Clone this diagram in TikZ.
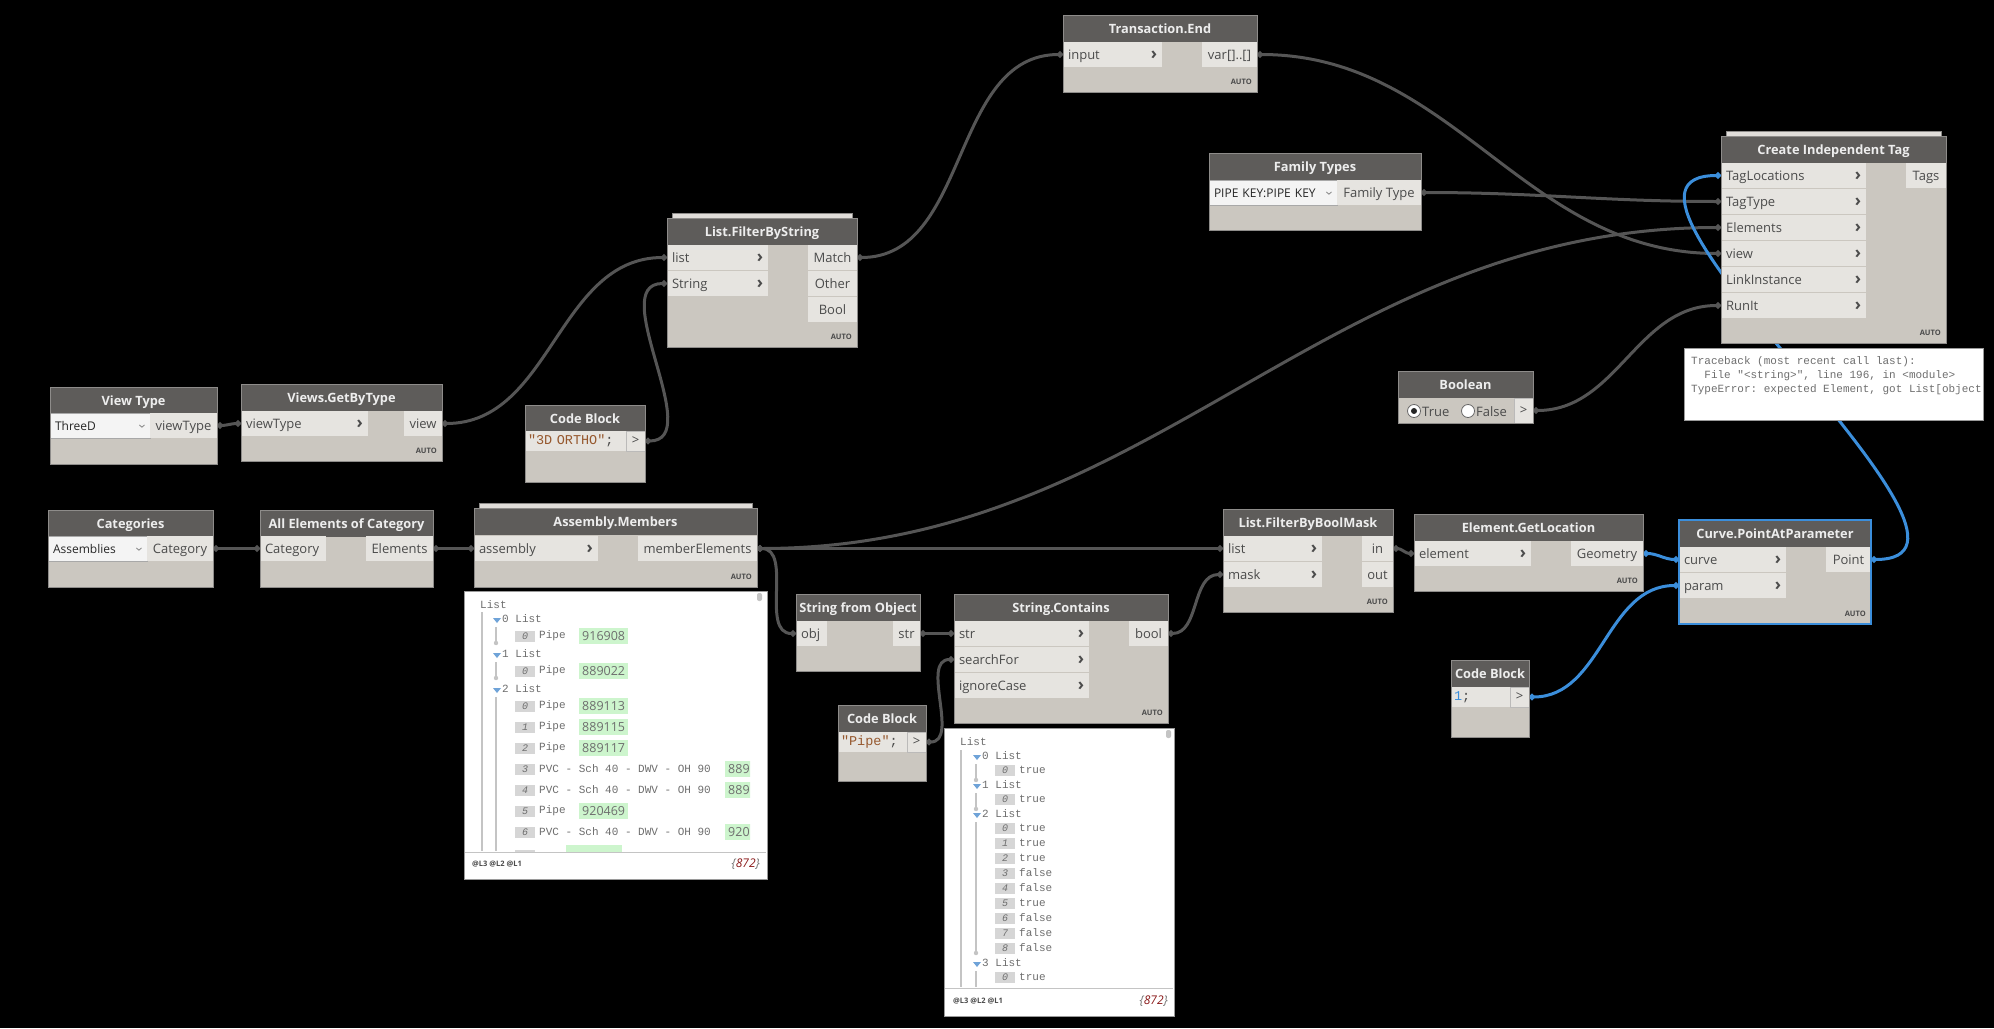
\documentclass[tikz,border=0pt]{standalone}
\usepackage{fontspec}
\usepackage{graphicx}
\setmainfont{Open Sans}
\setmonofont{Liberation Mono}
\usetikzlibrary{arrows.meta}
\pgfdeclarelayer{wires}
\pgfdeclarelayer{front}
\pgfsetlayers{wires,main,front}

\definecolor{canvas}{HTML}{000000}
\definecolor{hdrc}{HTML}{5E5C5A}
\definecolor{hdrtxt}{HTML}{EDEDED}
\definecolor{bodyc}{HTML}{CBC7C0}
\definecolor{portc}{HTML}{E6E4E0}
\definecolor{edgec}{HTML}{8E8C8A}
\definecolor{txtc}{HTML}{4B4B4B}
\definecolor{wirec}{HTML}{555555}
\definecolor{selc}{HTML}{3B8EDB}
\definecolor{strc}{HTML}{96582E}
\definecolor{numc}{HTML}{3B8EDB}
\definecolor{grnc}{HTML}{CDF5CD}
\definecolor{idxc}{HTML}{D6D6D6}
\definecolor{wtxc}{HTML}{6E6E6E}
\definecolor{redc}{HTML}{8B1A1A}
\definecolor{trc}{HTML}{6FA3D8}
\definecolor{dropc}{HTML}{F4F4F4}
\definecolor{dropedge}{HTML}{A8A8A8}
\definecolor{treec}{HTML}{C4C4C4}
\definecolor{watchedge}{HTML}{9A9A9A}

\newcommand\portfont{\fontsize{13}{15}\selectfont}
\newcommand\titlefont{\fontsize{12.8}{15}\selectfont\bfseries}
\newcommand\dropfont{\fontsize{12}{14}\selectfont}
\newcommand\codefont{\fontsize{13.5}{16}\selectfont\ttfamily}
\newcommand\wfont{\fontsize{11}{13}\selectfont\ttfamily}
\newcommand\idxfont{\fontsize{10}{11}\selectfont\ttfamily\itshape}
\newcommand\autofont{\fontsize{7.5}{8}\selectfont\bfseries}
\newcommand\chev{{\fontsize{17}{17}\selectfont\bfseries ›}}
\newcommand\ddarrow{{\color{gray}\fontsize{14}{14}\selectfont\rotatebox[origin=c]{-90}{›}}}

% dynamo node: body, title bar, frame on top
\newcommand\dyn[7][]{%
  \node[body,minimum width=#5pt,minimum height=#6pt] (#2) at (#3,#4) {};
  \node[hdr,minimum width=#5pt] (#2-t) at (#3,#4) {#7};
  \begin{pgfonlayer}{front}
    \node[nframe,minimum width=#5pt,minimum height=#6pt,#1] (#2-f) at (#3,#4) {};
  \end{pgfonlayer}}
% ports
\newcommand\pin[6][\chev]{%
  \pgfmathsetmacro\portw{#5-10}%
  \node[inport,text width=\portw pt] (#2) at (#3,#4) {#6\hfill#1};}
\newcommand\pout[5]{\node[outport,minimum width=#4pt] (#1) at (#2,#3) {#5};}
\newcommand\drop[5]{%
  \pgfmathsetmacro\portw{#4-10}%
  \node[drop,text width=\portw pt] (#1) at (#2,#3) {#5\hfill\ddarrow};}
\newcommand\dynauto[1]{\node[autotag] (#1-a) at ([xshift=-5pt,yshift=10pt]#1.south east) {AUTO};}
\newcommand\stackbar[3]{\filldraw[stackc] (#1+5,#2-5) rectangle (#1+#3-5,#2+2);}
% watch rows
\newcommand\wsub[4]{%
  \fill[trc] (#2,#3-1) -- (#2+8,#3-1) -- (#2+4,#3+4) -- cycle;
  \node[wtxt] (#1) at (#2+9,#3) {#4};}
\newcommand\witem[5]{%
  \node[idx] (#1-k) at (#2,#3) {#4};
  \node[wtxt] (#1) at (#2+24,#3) {#5};}

\begin{document}
\begin{tikzpicture}[x=1pt,y=-1pt,
  body/.style={anchor=north west,fill=bodyc,inner sep=0pt,outer sep=0pt},
  hdr/.style={anchor=north west,fill=hdrc,minimum height=27pt,inner sep=0pt,outer sep=0pt,text height=11pt,text depth=1pt,text=hdrtxt,font=\titlefont},
  nframe/.style={anchor=north west,draw=edgec,line width=1pt,inner sep=0pt,outer sep=0pt},
  inport/.style={anchor=north west,fill=portc,minimum height=25pt,inner xsep=5pt,inner ysep=0pt,outer sep=0pt,text height=11pt,text depth=1pt,align=left,font=\portfont,text=txtc},
  outport/.style={anchor=north west,fill=portc,minimum height=25pt,inner sep=0pt,outer sep=0pt,text height=11pt,text depth=1pt,font=\portfont,text=txtc},
  drop/.style={anchor=north west,fill=dropc,draw=dropedge,minimum height=25pt,inner xsep=5pt,inner ysep=0pt,outer sep=0pt,text height=10.5pt,text depth=1pt,align=left,font=\dropfont,text=black!85},
  codecell/.style={anchor=north west,fill=portc,minimum height=20pt,inner xsep=3pt,inner ysep=0pt,outer sep=0pt,align=left,font=\codefont,text=txtc},
  codeport/.style={anchor=north west,fill=portc,draw=edgec!60,minimum width=19pt,minimum height=20pt,inner sep=0pt,outer sep=0pt,font=\portfont,text=txtc},
  autotag/.style={anchor=east,inner sep=0pt,font=\autofont,text=txtc},
  stackc/.style={fill=bodyc!60!white,draw=edgec},
  watch/.style={anchor=north west,fill=white,draw=watchedge,line width=1pt,inner sep=0pt},
  wsep/.style={draw=treec,line width=1pt},
  treeline/.style={draw=treec,line width=1.2pt},
  wtxt/.style={anchor=west,inner sep=0pt,font=\wfont,text=wtxc},
  idx/.style={anchor=west,fill=idxc,minimum width=20pt,minimum height=11pt,inner sep=0pt,font=\idxfont,text=wtxc},
  gval/.style={anchor=west,fill=grnc,minimum height=16pt,inner xsep=3pt,inner ysep=0pt,font=\fontsize{12.5}{14}\selectfont,text=wtxc},
  foot/.style={anchor=west,inner sep=0pt,font=\autofont,text=txtc},
  cnt/.style={anchor=east,inner sep=0pt,font=\fontsize{12}{14}\selectfont\itshape,text=redc},
  errbox/.style={anchor=north west,fill=white,draw=watchedge,line width=1pt,inner sep=0pt},
  errtxt/.style={anchor=west,inner sep=0pt,font=\wfont,text=wtxc},
  radio/.style={fill=white,draw=gray!80!black,line width=0.8pt},
  boolt/.style={anchor=west,inner sep=0pt,text height=11pt,text depth=1pt,font=\portfont,text=txtc},
  wire/.style={draw=wirec,line width=3pt,{Circle[length=6pt 0]}-{Circle[length=6pt 0]}},
  selwire/.style={wire,draw=selc}]
\useasboundingbox (0,0) rectangle (1994,1028);
\begin{pgfonlayer}{wires}
  \fill[canvas] (0,0) rectangle (1994,1028);
\end{pgfonlayer}

% view type and filter by string
\dyn{vtype}{50}{387}{167}{77}{View Type}
\drop{vtype-d}{50}{413}{100}{ThreeD}
\pout{vtype-o}{150}{413}{67}{viewType}

\dyn{vget}{241}{384}{201}{77}{Views.GetByType}
\pin{vget-i}{241}{411}{127}{viewType}
\pout{vget-o}{404}{411}{38}{view}
\dynauto{vget}

\dyn{cb3d}{525}{405}{120}{77}{Code Block}
\node[codecell,text width=95pt] (cb3d-c) at (525,431) {{\color{strc}"3D ORTHO"};};
\node[codeport] (cb3d-o) at (626,431) {>};

\stackbar{667}{218}{190}
\dyn{fstr}{667}{218}{190}{129}{List.FilterByString}
\pin{fstr-i1}{667}{245}{101}{list}
\pin{fstr-i2}{667}{271}{101}{String}
\pout{fstr-o1}{808}{245}{49}{Match}
\pout{fstr-o2}{808}{271}{49}{Other}
\pout{fstr-o3}{808}{297}{49}{Bool}
\dynauto{fstr}

\dyn{tend}{1063}{15}{194}{77}{Transaction.End}
\pin{tend-i}{1063}{42}{99}{input}
\pout{tend-o}{1202}{42}{55}{var[]..[]}
\dynauto{tend}

% tag creation
\dyn{ftypes}{1209}{153}{212}{77}{Family Types}
\drop{ftypes-d}{1209}{180}{128}{PIPE KEY:PIPE KEY}
\pout{ftypes-o}{1337}{180}{84}{Family Type}

\stackbar{1721}{136}{225}
\dyn{ctag}{1721}{136}{225}{207}{Create Independent Tag}
\foreach \lab [count=\k] in {TagLocations,TagType,Elements,view,LinkInstance,RunIt}
  {\pin{ctag-i\k}{1721}{137+26*\k}{145}{\lab}}
\pout{ctag-o}{1906}{163}{40}{Tags}
\dynauto{ctag}

\node[errbox,minimum width=299pt,minimum height=72pt] (err) at (1684,348) {};
\node[errtxt] (err-l1) at (1691,362) {Traceback (most recent call last):};
\node[errtxt] (err-l2) at (1691,376) {\ \ File "<string>", line 196, in <module>};
\node[errtxt] (err-l3) at (1691,390) {TypeError: expected Element, got List[object};

\dyn{bool}{1398}{371}{135}{52}{Boolean}
\draw[radio] (1414,411) circle (6.5pt);
\fill[black!85] (1414,411) circle (3pt);
\draw[radio] (1468,411) circle (6.5pt);
\node[boolt] (bool-t) at (1422,411) {True};
\node[boolt] (bool-f) at (1476,411) {False};
\node[codeport,minimum height=25pt] (bool-o) at (1514,398) {>};

% assemblies
\dyn{cats}{48}{510}{165}{77}{Categories}
\drop{cats-d}{48}{536}{99}{Assemblies}
\pout{cats-o}{147}{536}{66}{Category}

\dyn{allel}{260}{510}{173}{77}{All Elements of Category}
\pin[]{allel-i}{260}{536}{66}{Category}
\pout{allel-o}{366}{536}{67}{Elements}

\stackbar{474}{508}{283}
\dyn{amem}{474}{508}{283}{79}{Assembly.Members}
\pin{amem-i}{474}{536}{124}{assembly}
\pout{amem-o}{638}{536}{119}{memberElements}
\dynauto{amem}

% watch under Assembly.Members
\node[watch,minimum width=303pt,minimum height=288pt] (w1) at (464,591) {};
\draw[wsep] (465,852) -- (766,852);
\fill[treec,rounded corners=2pt] (757,593) rectangle (762,601);
\node[wtxt] (w1-r) at (480,605) {List};
\begin{scope}
  \clip (466,610) rectangle (750,851);
  \draw[treeline] (482,612) -- (482,851);
  \wsub{w1-s0}{493}{619}{0 List}
  \draw[treeline] (496,627) -- (496,643);
  \fill[treec] (496,643) circle (2.2pt);
  \witem{w1-s0-0}{515}{636}{0}{Pipe}
  \node[gval] (w1-s0-v) at (579,636) {916908};
  \wsub{w1-s1}{493}{654}{1 List}
  \draw[treeline] (496,662) -- (496,678);
  \fill[treec] (496,678) circle (2.2pt);
  \witem{w1-s1-0}{515}{671}{0}{Pipe}
  \node[gval] (w1-s1-v) at (579,671) {889022};
  \wsub{w1-s2}{493}{689}{2 List}
  \draw[treeline] (496,697) -- (496,851);
  \foreach \i/\yy/\txt/\vx/\val in {0/706/Pipe/579/889113,1/727/Pipe/579/889115,
      2/748/Pipe/579/889117,3/769/PVC - Sch 40 - DWV - OH 90/725/889,
      4/790/PVC - Sch 40 - DWV - OH 90/725/889,5/811/Pipe/579/920469,
      6/832/PVC - Sch 40 - DWV - OH 90/725/920}
    {\witem{w1-s2-\i}{515}{\yy}{\i}{\txt}
     \node[gval] (w1-s2-v\i) at (\vx,\yy) {\val};}
  \node[idx] (w1-s2-7k) at (515,855) {};
  \node[gval,minimum width=56pt] (w1-s2-v7) at (566,853) {};
\end{scope}
\node[foot] (w1-lv) at (472,864) {@L3 @L2 @L1};
\node[cnt] (w1-n) at (760,864) {{\color{wtxc}\{}872{\color{wtxc}\}}};

% string test
\dyn{sobj}{796}{594}{124}{77}{String from Object}
\pin[]{sobj-i}{796}{621}{31}{obj}
\pout{sobj-o}{893}{621}{27}{str}

\dyn{scont}{954}{594}{214}{129}{String.Contains}
\pin{scont-i1}{954}{621}{135}{str}
\pin{scont-i2}{954}{647}{135}{searchFor}
\pin{scont-i3}{954}{673}{135}{ignoreCase}
\pout{scont-o}{1129}{621}{39}{bool}
\dynauto{scont}

\dyn{cbpipe}{838}{705}{88}{76}{Code Block}
\node[codecell,text width=63pt] (cbpipe-c) at (838,732) {{\color{strc}"Pipe"};};
\node[codeport] (cbpipe-o) at (907,732) {>};

% watch under String.Contains
\node[watch,minimum width=230pt,minimum height=288pt] (w2) at (944,728) {};
\draw[wsep] (945,988) -- (1173,988);
\fill[treec,rounded corners=2pt] (1166,730) rectangle (1171,738);
\node[wtxt] (w2-r) at (960,742) {List};
\begin{scope}
  \clip (946,748) rectangle (1170,987);
  \draw[treeline] (961,750) -- (961,987);
  \wsub{w2-s0}{973}{756}{0 List}
  \draw[treeline] (976,764) -- (976,780);
  \fill[treec] (976,780) circle (2.2pt);
  \witem{w2-s0-0}{995}{770}{0}{true}
  \wsub{w2-s1}{973}{785}{1 List}
  \draw[treeline] (976,793) -- (976,809);
  \fill[treec] (976,809) circle (2.2pt);
  \witem{w2-s1-0}{995}{799}{0}{true}
  \wsub{w2-s2}{973}{814}{2 List}
  \draw[treeline] (976,822) -- (976,953);
  \fill[treec] (976,953) circle (2.2pt);
  \foreach \val [count=\i from 0] in {true,true,true,false,false,true,false,false,false}
    {\witem{w2-s2-\i}{995}{828+15*\i}{\i}{\val}}
  \wsub{w2-s3}{973}{963}{3 List}
  \draw[treeline] (976,971) -- (976,987);
  \witem{w2-s3-0}{995}{977}{0}{true}
\end{scope}
\node[foot] (w2-lv) at (953,1001) {@L3 @L2 @L1};
\node[cnt] (w2-n) at (1168,1001) {{\color{wtxc}\{}872{\color{wtxc}\}}};

% mask and location
\dyn{fbool}{1223}{509}{170}{103}{List.FilterByBoolMask}
\pin{fbool-i1}{1223}{536}{99}{list}
\pin{fbool-i2}{1223}{562}{99}{mask}
\pout{fbool-o1}{1362}{536}{31}{in}
\pout{fbool-o2}{1362}{562}{31}{out}
\dynauto{fbool}

\dyn{gloc}{1414}{514}{229}{77}{Element.GetLocation}
\pin{gloc-i}{1414}{541}{117}{element}
\pout{gloc-o}{1571}{541}{72}{Geometry}
\dynauto{gloc}

\dyn[draw=selc,line width=2.5pt]{cpap}{1679}{520}{192}{104}{Curve.PointAtParameter}
\pin{cpap-i1}{1679}{547}{107}{curve}
\pin{cpap-i2}{1679}{573}{107}{param}
\pout{cpap-o}{1826}{547}{45}{Point}
\dynauto{cpap}

\dyn{cb1}{1451}{660}{78}{77}{Code Block}
\node[codecell,text width=53pt] (cb1-c) at (1451,687) {{\color{numc}1};};
\node[codeport] (cb1-o) at (1510,687) {>};

% connectors
\begin{pgfonlayer}{wires}
  \draw[wire] (vtype-o.east) to[out=0,in=180] (vget-i.west);
  \draw[wire] (vget-o.east) to[out=0,in=180] (fstr-i1.west);
  \draw[wire] (cb3d-o.east) to[out=0,in=180] (fstr-i2.west);
  \draw[wire] (fstr-o1.east) to[out=0,in=180] (tend-i.west);
  \draw[wire] (tend-o.east) to[out=0,in=180] (ctag-i4.west);
  \draw[wire] (ftypes-o.east) to[out=0,in=180] (ctag-i2.west);
  \draw[wire] (cats-o.east) -- (allel-i.west);
  \draw[wire] (allel-o.east) -- (amem-i.west);
  \draw[wire] (amem-o.east) to[out=0,in=180] (ctag-i3.west);
  \draw[wire] (amem-o.east) -- (fbool-i1.west);
  \draw[wire] (amem-o.east) to[out=0,in=180] (sobj-i.west);
  \draw[wire] (sobj-o.east) -- (scont-i1.west);
  \draw[wire] (cbpipe-o.east) to[out=0,in=180] (scont-i2.west);
  \draw[wire] (scont-o.east) to[out=0,in=180] (fbool-i2.west);
  \draw[wire] (fbool-o1.east) to[out=0,in=180] (gloc-i.west);
  \draw[wire] (bool-o.east) to[out=0,in=180] (ctag-i6.west);
  \draw[selwire] (gloc-o.east) to[out=0,in=180] (cpap-i1.west);
  \draw[selwire] (cb1-o.east) to[out=0,in=180] (cpap-i2.west);
  \draw[selwire] (cpap-o.east) to[out=0,in=180] (ctag-i1.west);
\end{pgfonlayer}
\end{tikzpicture}
\end{document}
